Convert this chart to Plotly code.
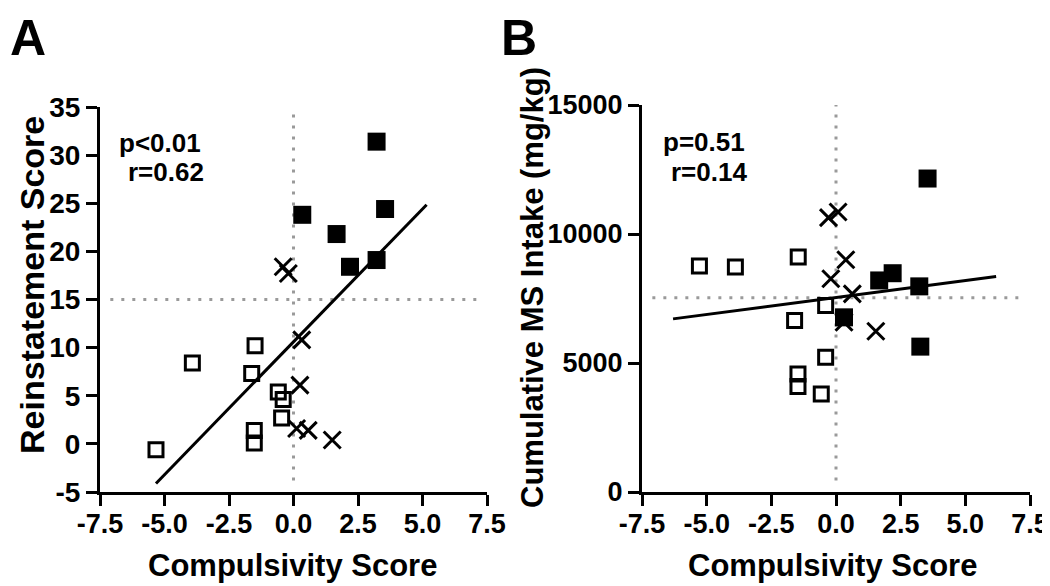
import plotly.graph_objects as go

# ---------------- data ----------------
# Panel A: Compulsivity score vs Reinstatement score
a_filled_x = [3.22, 0.34, 1.67, 3.55, 2.19, 3.22]
a_filled_y = [31.4, 23.8, 21.8, 24.4, 18.4, 19.1]
a_cross_x = [-0.40, -0.20, 0.32, 0.25, 0.12, 0.57, 1.50]
a_cross_y = [18.4, 17.7, 10.8, 6.1, 1.6, 1.4, 0.4]
a_open_x = [-5.33, -3.92, -1.49, -1.62, -0.59, -0.40, -0.46, -1.52, -1.52]
a_open_y = [-0.6, 8.4, 10.2, 7.3, 5.4, 4.6, 2.7, 1.4, 0.1]
a_fit_slope = 2.76
a_fit_intercept = 10.6
a_fit_xrange = [-5.33, 5.16]
a_median_x = 0.0
a_median_y = 15.0

# Panel B: Compulsivity score vs cumulative MS intake
b_filled_x = [3.54, 1.67, 2.19, 3.22, 0.31, 3.26]
b_filled_y = [12150, 8200, 8480, 7970, 6770, 5635]
b_cross_x = [-0.29, 0.08, 0.38, -0.20, 0.63, 0.31, 1.54]
b_cross_y = [10635, 10855, 9000, 8265, 7680, 6580, 6230]
b_open_x = [-5.28, -3.89, -1.46, -0.40, -1.60, -0.40, -1.47, -1.47, -0.57]
b_open_y = [8756, 8717, 9106, 7228, 6645, 5220, 4573, 4093, 3796]
b_fit_slope = 131.7
b_fit_intercept = 7540
b_fit_xrange = [-6.30, 6.19]
b_median_x = 0.0
b_median_y = 7527

x_ticks = [-7.5, -5.0, -2.5, 0.0, 2.5, 5.0, 7.5]
x_ticklabels = ["-7.5", "-5.0", "-2.5", "0.0", "2.5", "5.0", "7.5"]
a_y_ticks = [-5, 0, 5, 10, 15, 20, 25, 30, 35]
a_y_ticklabels = ["-5", "0", "5", "10", "15", "20", "25", "30", "35"]
b_y_ticks = [0, 5000, 10000, 15000]
b_y_ticklabels = ["0", "5000", "10000", "15000"]

# ---------------- figure ----------------
OFF = 8  # default page body margin
W, H = 1050 - OFF, 586 - OFF
FONT = "Liberation Sans, Arial, Helvetica, sans-serif"
DOT = "#9a9a9a"


def bold(labels):
    return ["<b>%s</b>" % t for t in labels]


fig = go.Figure()


def add_panel(fig, xa, ya, fx, fy, cx, cy, ox, oy, slope, icpt, xr, mx, my, yr):
    # reference (median) lines
    fig.add_trace(go.Scatter(x=[mx, mx], y=[yr[0] + (yr[1] - yr[0]) * 0.03, yr[1]],
                             mode="lines", line=dict(color=DOT, width=3, dash="3px,8px"),
                             xaxis=xa, yaxis=ya, showlegend=False, hoverinfo="skip"))
    fig.add_trace(go.Scatter(x=[-7.1, 7.1], y=[my, my],
                             mode="lines", line=dict(color=DOT, width=3, dash="3px,8px"),
                             xaxis=xa, yaxis=ya, showlegend=False, hoverinfo="skip"))
    # markers
    fig.add_trace(go.Scatter(x=ox, y=oy, mode="markers",
                             marker=dict(symbol="square-open", size=14, color="black",
                                         line=dict(width=3, color="black")),
                             xaxis=xa, yaxis=ya, showlegend=False))
    fig.add_trace(go.Scatter(x=cx, y=cy, mode="markers",
                             marker=dict(symbol="x-thin", size=17, color="black",
                                         line=dict(width=3, color="black")),
                             xaxis=xa, yaxis=ya, showlegend=False))
    fig.add_trace(go.Scatter(x=fx, y=fy, mode="markers",
                             marker=dict(symbol="square", size=18, color="black",
                                         line=dict(width=0)),
                             xaxis=xa, yaxis=ya, showlegend=False))
    # regression line
    lx = [xr[0], xr[1]]
    ly = [slope * v + icpt for v in lx]
    fig.add_trace(go.Scatter(x=lx, y=ly, mode="lines",
                             line=dict(color="black", width=3),
                             xaxis=xa, yaxis=ya, showlegend=False, hoverinfo="skip"))


add_panel(fig, "x", "y", a_filled_x, a_filled_y, a_cross_x, a_cross_y, a_open_x, a_open_y,
          a_fit_slope, a_fit_intercept, a_fit_xrange, a_median_x, a_median_y, [-5, 35])
add_panel(fig, "x2", "y2", b_filled_x, b_filled_y, b_cross_x, b_cross_y, b_open_x, b_open_y,
          b_fit_slope, b_fit_intercept, b_fit_xrange, b_median_x, b_median_y, [0, 15000])


def px_x(p):
    return (p - OFF) / W


def px_y(p):
    return 1 - (p - OFF) / H


common_axis = dict(showgrid=False, zeroline=False, showline=True, linecolor="black",
                   linewidth=3, ticks="outside", ticklen=11, tickwidth=3, tickcolor="black",
                   mirror=False, automargin=False, tickmode="array")

xtick_font = dict(family=FONT, size=27, color="black")

fig.update_layout(
    template="none",
    width=W, height=H,
    margin=dict(l=0, r=0, t=0, b=0, pad=0, autoexpand=False),
    paper_bgcolor="white", plot_bgcolor="white",
    showlegend=False,
    xaxis=dict(domain=[px_x(100), px_x(487)], range=[-7.5, 7.5], tickvals=x_ticks,
               ticktext=bold(x_ticklabels), tickfont=xtick_font, anchor="y",
               ticklabelstandoff=-5, **common_axis),
    yaxis=dict(domain=[px_y(492), px_y(107)], range=[-5, 35], tickvals=a_y_ticks,
               ticktext=bold(a_y_ticklabels),
               tickfont=dict(family=FONT, size=28, color="black"),
               anchor="x", **common_axis),
    xaxis2=dict(domain=[px_x(642), px_x(1030)], range=[-7.5, 7.5], tickvals=x_ticks,
                ticktext=bold(x_ticklabels), tickfont=xtick_font, anchor="y2",
                ticklabelstandoff=-5, **common_axis),
    yaxis2=dict(domain=[px_y(492), px_y(105)], range=[0, 15000], tickvals=b_y_ticks,
                ticktext=bold(b_y_ticklabels),
                tickfont=dict(family=FONT, size=27, color="black"),
                anchor="x2", **common_axis),
)

ann_font = dict(family=FONT, size=26, color="black")
title_font = dict(family=FONT, size=31, color="black")

annotations = [
    dict(text="<b>A</b>", x=0.0, y=1.0, xanchor="left", yanchor="top",
         font=dict(family=FONT, size=50, color="black")),
    dict(text="<b>B</b>", x=px_x(499), y=1.0, xanchor="left", yanchor="top",
         font=dict(family=FONT, size=50, color="black")),
    dict(text="<b>p<0.01</b>", x=px_x(117), y=px_y(143), xanchor="left", yanchor="middle", font=ann_font),
    dict(text="<b>r=0.62</b>", x=px_x(126), y=px_y(172), xanchor="left", yanchor="middle", font=ann_font),
    dict(text="<b>p=0.51</b>", x=px_x(661), y=px_y(142), xanchor="left", yanchor="middle", font=ann_font),
    dict(text="<b>r=0.14</b>", x=px_x(669), y=px_y(172), xanchor="left", yanchor="middle", font=ann_font),
    dict(text="<b>Compulsivity Score</b>", x=px_x(292), y=px_y(565), xanchor="center", yanchor="middle",
         font=title_font),
    dict(text="<b>Compulsivity Score</b>", x=px_x(832), y=px_y(565), xanchor="center", yanchor="middle",
         font=title_font),
    dict(text="<b>Reinstatement Score</b>", x=px_x(32), y=px_y(285), xanchor="center", yanchor="middle",
         textangle=-90, font=dict(family=FONT, size=34, color="black")),
    dict(text="<b>Cumulative MS Intake (mg/kg)</b>", x=px_x(532), y=px_y(288), xanchor="center",
         yanchor="middle", textangle=-90, font=dict(family=FONT, size=31, color="black")),
]
for a in annotations:
    a.update(xref="paper", yref="paper", showarrow=False)
fig.update_layout(annotations=annotations)

fig.write_html("out.html")
